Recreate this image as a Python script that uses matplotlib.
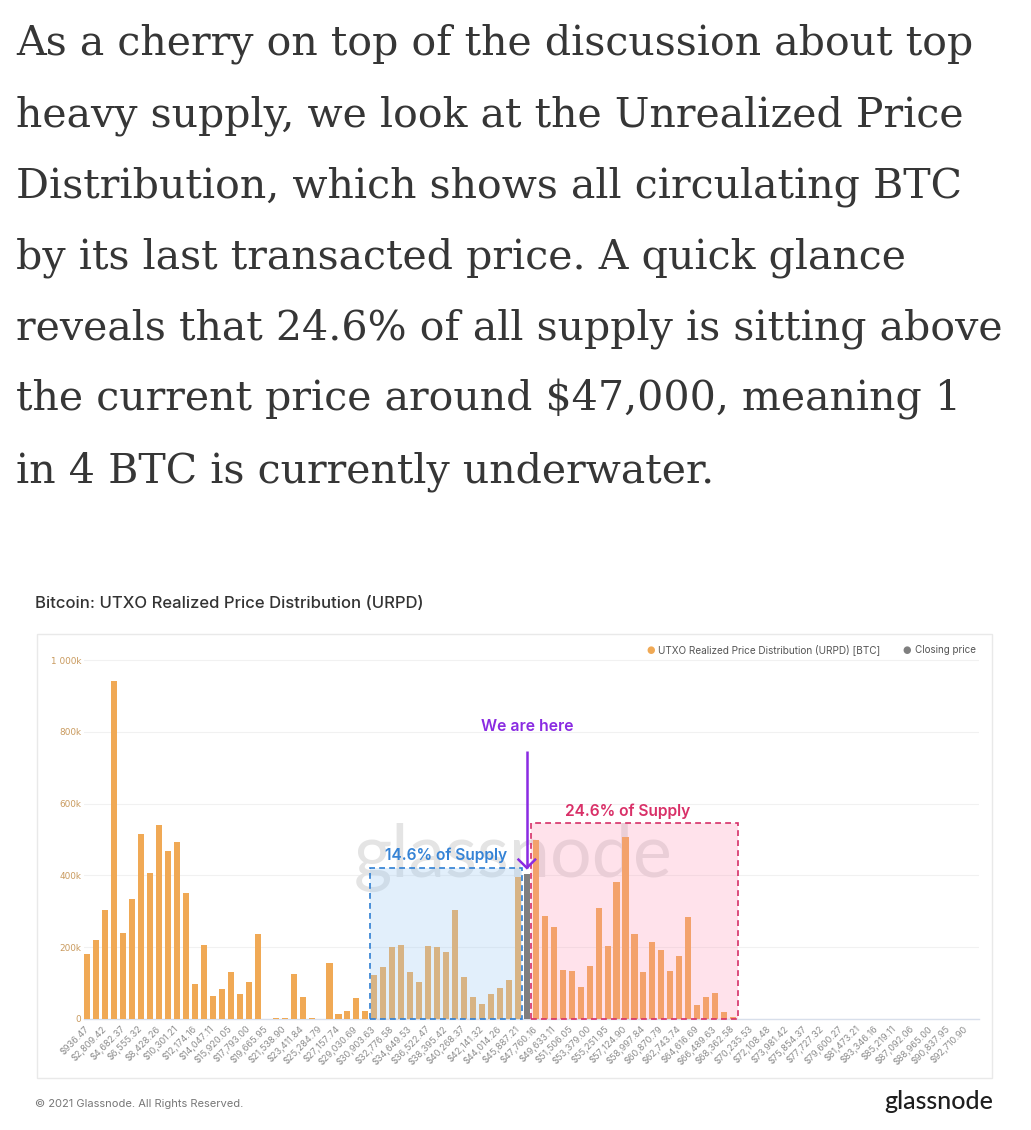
import matplotlib
matplotlib.use("Agg")
import matplotlib.pyplot as plt
from matplotlib.patches import Rectangle
from matplotlib.ticker import FixedLocator, FuncFormatter
import numpy as np

W, H = 1031, 1130

# ---------------- data ----------------
paragraph = [
    "As a cherry on top of the discussion about top",
    "heavy supply, we look at the Unrealized Price",
    "Distribution, which shows all circulating BTC",
    "by its last transacted price. A quick glance",
    "reveals that 24.6% of all supply is sitting above",
    "the current price around $47,000, meaning 1",
    "in 4 BTC is currently underwater.",
]

chart_title = "Bitcoin: UTXO Realized Price Distribution (URPD)"

# URPD supply per price bucket, thousands of BTC (100 buckets)
urpd_k = [
    181, 220, 305, 942, 240, 335, 514, 408, 540, 467,
    493, 352, 97, 206, 65, 84, 130, 70, 104, 236,
    0.5, 2, 2, 125, 60, 2, 1, 155, 14, 21,
    58, 23, 123, 146, 201, 206, 132, 102, 203, 200,
    188, 304, 116, 60, 42, 71, 86, 109, 395, 0,
    499, 288, 257, 136, 135, 90, 149, 310, 203, 382,
    506, 236, 132, 215, 192, 135, 175, 285, 39, 62,
    73, 20, 5, 0, 0, 0, 0, 0, 0, 0,
    0, 0, 0, 0, 0, 0, 0, 0, 0, 0,
    0, 0, 0, 0, 0, 0, 0, 0, 0, 0,
]

closing_bucket = 49
closing_value_k = 405

# labels shown on every other bucket
tick_labels = [
    "$936.47", "$2,809.42", "$4,682.37", "$6,555.32", "$8,428.26",
    "$10,301.21", "$12,174.16", "$14,047.11", "$15,920.05", "$17,793.00",
    "$19,665.95", "$21,538.90", "$23,411.84", "$25,284.79", "$27,157.74",
    "$29,030.69", "$30,903.63", "$32,776.58", "$34,649.53", "$36,522.47",
    "$38,395.42", "$40,268.37", "$42,141.32", "$44,014.26", "$45,887.21",
    "$47,760.16", "$49,633.11", "$51,506.05", "$53,379.00", "$55,251.95",
    "$57,124.90", "$58,997.84", "$60,870.79", "$62,743.74", "$64,616.69",
    "$66,489.63", "$68,362.58", "$70,235.53", "$72,108.48", "$73,981.42",
    "$75,854.37", "$77,727.32", "$79,600.27", "$81,473.21", "$83,346.16",
    "$85,219.11", "$87,092.06", "$88,965.00", "$90,837.95", "$92,710.90",
]

y_ticks_k = [0, 200, 400, 600, 800, 1000]

blue_zone = (32, 48, 420)     # first bucket, last bucket, height (k)
red_zone = (50, 72, 545)
blue_label = "14.6% of Supply"
red_label = "24.6% of Supply"
here_label = "We are here"

# ---------------- figure ----------------
fig = plt.figure(figsize=(W / 100, H / 100), dpi=100)
fig.patch.set_facecolor("white")


def fx(x):
    return x / W


def fy(y):
    return 1 - y / H


# paragraph text
text_color = "#363636"
fs_par = 29.6
for i, line in enumerate(paragraph):
    fig.text(fx(16), fy(55 + 71.2 * i), line, family="DejaVu Serif",
             fontsize=fs_par, color=text_color, ha="left", va="baseline")

# chart title
fig.text(fx(35), fy(604), chart_title, family="Inter", fontsize=12.0,
         fontweight="medium", color="#333333", ha="left", va="center")

# panel border
panel = Rectangle((fx(37), fy(1078)), fx(992) - fx(37), fy(634) - fy(1078),
                  transform=fig.transFigure, facecolor="white",
                  edgecolor="#e9e9e9", linewidth=1.0, zorder=0)
fig.add_artist(panel)

# axes
ax_l, ax_r, ax_t, ax_b = 84, 979, 655, 1019
ax = fig.add_axes([fx(ax_l), fy(ax_b), fx(ax_r) - fx(ax_l), fy(ax_t) - fy(ax_b)])
ax.set_facecolor("none")
px_per_bar = 8.97
x0_px = 87.3
ax.set_xlim((ax_l - x0_px) / px_per_bar, (ax_r - x0_px) / px_per_bar)
k_per_px = 1000 / 359.0
ax.set_ylim(0, (ax_b - ax_t) * k_per_px)

x = np.arange(len(urpd_k))
orange = "#f0a955"
ax.bar(x, urpd_k, width=0.68, color=orange, zorder=3)
ax.bar([closing_bucket], [closing_value_k], width=0.68, color="#7f7f7f", zorder=3)

for s in ["top", "right", "left"]:
    ax.spines[s].set_visible(False)
ax.spines["bottom"].set_color("#d8dfeb")
ax.spines["bottom"].set_linewidth(1.0)

ax.yaxis.set_major_locator(FixedLocator(y_ticks_k))
ax.yaxis.set_major_formatter(FuncFormatter(
    lambda v, p: "0" if v == 0 else ("1 000k" if v == 1000 else f"{int(v)}k")))
ax.tick_params(axis="y", length=0, pad=2, labelsize=6.4, labelcolor="#c99a5e")
ax.grid(axis="y", color="#f1f1f1", linewidth=0.8, zorder=0)
ax.set_axisbelow(True)

ax.set_xticks(x[::2])
ax.set_xticklabels(tick_labels, rotation=45, ha="right", va="center",
                   rotation_mode="anchor", fontsize=6.6, color="#8c8c8c",
                   family="Inter")
ax.tick_params(axis="x", length=0, pad=6)

# watermark
ax.text((513 - x0_px) / px_per_bar, (ax_b - 877) * k_per_px, "glassnode",
        family="Lato", fontsize=53, color="#e4e4e4", ha="center", va="baseline",
        zorder=1)

# highlighted zones
bl, br, bh = blue_zone
ax.add_patch(Rectangle((bl - 0.5, 0), br - bl + 1, bh, facecolor="#9fcbf3",
                       alpha=0.3, edgecolor="none", zorder=4))
ax.add_patch(Rectangle((bl - 0.5, 0), br - bl + 1, bh, facecolor="none",
                       edgecolor="#2f7fd3", linewidth=1.2, linestyle=(0, (3.5, 2.5)),
                       zorder=5, clip_on=False))
rl, rr, rh = red_zone
ax.add_patch(Rectangle((rl - 0.5, 0), rr - rl + 1, rh, facecolor="#ff8fb2",
                       alpha=0.25, edgecolor="none", zorder=4))
ax.add_patch(Rectangle((rl - 0.5, 0), rr - rl + 1, rh, facecolor="none",
                       edgecolor="#d63068", linewidth=1.2, linestyle=(0, (3.5, 2.5)),
                       zorder=5, clip_on=False))

ax.text((bl + br) / 2, bh + 35, blue_label, family="Inter", fontsize=11.2,
        fontweight="semibold", color="#3583d6", ha="center", va="center", zorder=6)
ax.text((628 - x0_px) / px_per_bar, rh + 34, red_label, family="Inter", fontsize=11.2,
        fontweight="semibold", color="#d93068", ha="center", va="center", zorder=6)
ax.text(closing_bucket, 816, here_label, family="Inter", fontsize=11.4,
        fontweight="semibold", color="#8a2be2", ha="center", va="center", zorder=6)

# arrow
purple = "#8a2be2"
ax.plot([closing_bucket, closing_bucket], [746, 421], color=purple, linewidth=1.8,
        zorder=7, solid_capstyle="butt")
ax.plot([closing_bucket - 0.93, closing_bucket, closing_bucket + 0.93],
        [444, 421, 444], color=purple, linewidth=1.8, zorder=7,
        solid_joinstyle="miter")

# legend
fig.text(fx(651), fy(650), "\u25CF", family="DejaVu Sans", fontsize=7,
         color=orange, ha="center", va="center")
fig.text(fx(658), fy(650), "UTXO Realized Price Distribution (URPD) [BTC]",
         family="Inter", fontsize=7.2, color="#555555", ha="left", va="center")
fig.text(fx(907), fy(650), "\u25CF", family="DejaVu Sans", fontsize=7,
         color="#7f7f7f", ha="center", va="center")
fig.text(fx(915), fy(650), "Closing price", family="Inter", fontsize=7.1,
         color="#555555", ha="left", va="center")

# footer
fig.text(fx(35), fy(1104), "\u00A9 2021 Glassnode. All Rights Reserved.",
         family="Inter", fontsize=8.0, color="#777777", ha="left", va="center")
fig.text(fx(993), fy(1109), "glassnode", family="Lato", fontsize=18,
         fontweight="medium", color="#1e1e1e", ha="right", va="baseline")

fig.savefig("out.png", dpi=100, facecolor="white")
